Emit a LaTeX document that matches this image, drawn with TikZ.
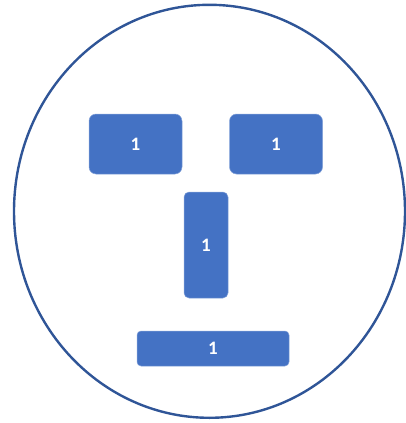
\documentclass[tikz,border=0pt]{standalone}
\usepackage{fontspec}
\setmainfont{Carlito}
\usepackage{xcolor}
\definecolor{visageBleu}{HTML}{4472C4}
\definecolor{visageContour}{HTML}{2F5597}
\usetikzlibrary{positioning}
\tikzset{
  %% ── Boxes ────────────────────────────────────────────────────────────
  %% One weight only: every feature of the face is the same filled block.
  pave/.style      = {draw=visageBleu!65!white, line width=0.5pt,
                      fill=visageBleu, text=white, align=center,
                      inner sep=0pt, font=\fontsize{19}{22}\selectfont\bfseries},
  paveOeil/.style  = {pave, rounded corners=7pt,
                      minimum width=93pt, minimum height=60pt},
  paveNez/.style   = {pave, rounded corners=5pt,
                      minimum width=44pt, minimum height=106pt},
  paveBouche/.style= {pave, rounded corners=4pt,
                      minimum width=152pt, minimum height=35pt},
  %%
  %% ── Outline ──────────────────────────────────────────────────────────
  contour/.style   = {draw=visageContour, line width=2.4pt},
}

\begin{document}
\begin{tikzpicture}[x=1pt, y=-1pt]

%% Cadre : 405 x 423, origine en haut a gauche.
\useasboundingbox (0,0) rectangle (405,423);

%% Le contour du visage.
\draw[contour] (209.5,211.3) ellipse [x radius=195.5, y radius=206.5];

%% Les yeux, le nez, la bouche.
\node[paveOeil]   (oeilG)  at (135.5,144) {1};
\node[paveOeil]   (oeilD)  at (276,144)   {1};
\node[paveNez]    (nez)    at (206,245)   {1};
\node[paveBouche] (bouche) at (213,348.5) {1};

\end{tikzpicture}
\end{document}
